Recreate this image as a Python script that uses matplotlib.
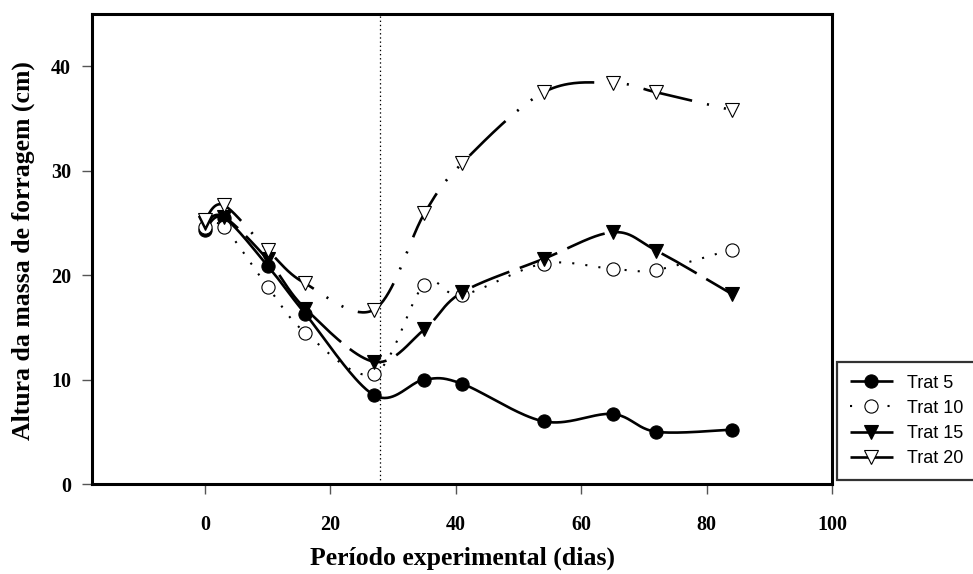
import numpy as np
import matplotlib
matplotlib.use("Agg")
import matplotlib.pyplot as plt
from matplotlib.lines import Line2D

# sampling days (dias) and mean sward height (cm) per treatment
dias = [0, 3, 10, 16, 27, 35, 41, 54, 65, 72, 84]
trat5 = [24.3, 25.5, 20.9, 16.3, 8.5, 10.0, 9.6, 6.0, 6.7, 5.0, 5.2]
trat10 = [24.6, 24.6, 18.9, 14.5, 10.55, 19.1, 18.1, 21.1, 20.6, 20.5, 22.45]
trat15 = [25.0, 25.6, 21.5, 16.8, 11.7, 14.8, 18.35, 21.55, 24.1, 22.35, 18.2]
trat20 = [25.3, 26.7, 22.4, 19.2, 16.7, 25.9, 30.7, 37.5, 38.4, 37.5, 35.8]
labels = ["Trat 5", "Trat 10", "Trat 15", "Trat 20"]
x_ticks = [0, 20, 40, 60, 80, 100]
y_ticks = [0, 10, 20, 30, 40]
corte = 28  # dotted reference line

XLIM = (-18, 100)
YLIM = (0, 45)

plt.rcParams["lines.scale_dashes"] = False

W, H = 973, 574
fig = plt.figure(figsize=(W / 100, H / 100), dpi=100)
left, right, top, bottom = 92, 832, 14, 484
ax = fig.add_axes([left / W, 1 - bottom / H, (right - left) / W, (bottom - top) / H])

# pixels per data unit, used so the smoothing is done in screen space
sx = (right - left) / (XLIM[1] - XLIM[0])
sy = (bottom - top) / (YLIM[1] - YLIM[0])


def smooth(xs, ys, n=40):
    """Bezier smoothing through the points (spreadsheet-style smoothed line)."""
    P = np.column_stack([np.asarray(xs, float) * sx, np.asarray(ys, float) * sy])
    ext = np.vstack([P[0], P, P[-1]])
    t = np.linspace(0, 1, n)[:, None]
    out = []
    for i in range(len(P) - 1):
        p0, p1, p2, p3 = ext[i], ext[i + 1], ext[i + 2], ext[i + 3]
        c1 = p1 + (p2 - p0) / 6
        c2 = p2 - (p3 - p1) / 6
        seg = (1 - t) ** 3 * p1 + 3 * (1 - t) ** 2 * t * c1 + 3 * (1 - t) * t ** 2 * c2 + t ** 3 * p2
        out.append(seg if i == 0 else seg[1:])
    out = np.vstack(out)
    return out[:, 0] / sx, out[:, 1] / sy


# (values, line style on the plot, line style in the legend, marker, fill)
series = [
    (trat5, (0, ()), (0, ()), "o", "black"),
    (trat10, (0, (1.5, 8)), (0, (1.5, 12)), "o", "white"),
    (trat15, (0, (29, 8)), (0, ()), "v", "black"),
    (trat20, (0, (36, 11, 1.5, 11, 1.5, 11)), (0, ()), "v", "white"),
]

handles = []
for ys, ls, leg_ls, mk, fc in series:
    cx, cy = smooth(dias, ys)
    lw = 1.5 if mk == "o" and fc == "white" else 1.9
    ax.plot(cx, cy, color="black", lw=lw, linestyle=ls, solid_capstyle="butt",
            dash_capstyle="butt", zorder=2)
    ax.plot(dias, ys, linestyle="none", marker=mk, markersize=9.5,
            markerfacecolor=fc, markeredgecolor="black", markeredgewidth=0.8, zorder=3)
    handles.append(Line2D([], [], color="black", lw=lw, linestyle=leg_ls, marker=mk,
                          markersize=9.5, markerfacecolor=fc, markeredgecolor="black",
                          markeredgewidth=0.8, solid_capstyle="butt"))

ax.axvline(corte, color="black", lw=0.9, linestyle=(0, (1, 2)), zorder=1)

ax.set_xlim(*XLIM)
ax.set_ylim(*YLIM)
ax.set_xticks(x_ticks)
ax.set_yticks(y_ticks)

tick_font = {"family": "Liberation Serif", "weight": "bold", "size": 14.5}
ax.set_xticklabels([str(v) for v in x_ticks], fontdict=tick_font)
ax.set_yticklabels([str(v) for v in y_ticks], fontdict=tick_font)
ax.tick_params(axis="both", direction="out", length=7, width=1, color="#555555")
ax.tick_params(axis="x", pad=15)
ax.tick_params(axis="y", pad=8)

for s in ax.spines.values():
    s.set_linewidth(2.2)
    s.set_color("black")

label_font = {"family": "Liberation Serif", "weight": "bold", "size": 18.5}
fig.text(462 / W, 1 - 558 / H, "Período experimental (dias)", ha="center", va="center",
         fontdict=label_font)
fig.text(23 / W, 1 - 251 / H, "Altura da massa de forragem (cm)", ha="center", va="center",
         rotation=90, fontdict=label_font)

leg = fig.legend(handles, labels, loc="upper left", bbox_to_anchor=(837 / W, 1 - 362 / H),
                 prop={"family": "Liberation Sans", "size": 13}, frameon=True,
                 fancybox=False, borderaxespad=0, borderpad=0.7, handlelength=2.4,
                 handletextpad=0.75, labelspacing=0.45)
leg.get_frame().set_edgecolor("black")
leg.get_frame().set_linewidth(1.6)

fig.savefig("out.png", dpi=100)
